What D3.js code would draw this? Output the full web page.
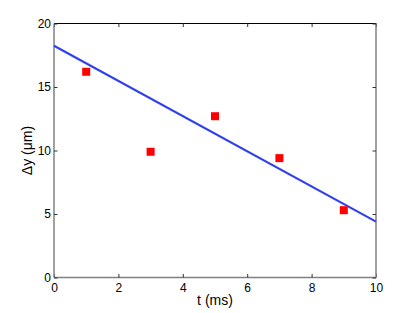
<!DOCTYPE html>
<html>
<head>
<meta charset="utf-8">
<script src="https://cdn.jsdelivr.net/npm/d3@7"></script>
<style>
  body { margin: 0; background: #fff; }
  text { font-family: "Liberation Sans", Arial, sans-serif; }
</style>
</head>
<body>
<div id="container"></div>
<script>
const tValues = [1, 3, 5, 7, 9]
const dyValues = [16.2, 9.9, 12.7, 9.4, 5.3]
const lineT = [0, 10]
const lineDy = [18.25, 4.4]
const xTicks = [0, 2, 4, 6, 8, 10]
const yTicks = [0, 5, 10, 15, 20]

const width = 415
const height = 313
const marginTop = 23.5
const marginRight = 39
const marginBottom = 35.5
const marginLeft = 54

const x = d3.scaleLinear()
    .domain([0, 10])
    .range([marginLeft, width - marginRight])

const y = d3.scaleLinear()
    .domain([0, 20])
    .range([height - marginBottom, marginTop])

const svg = d3.create("svg")
    .attr("width", width)
    .attr("height", height)

const axisColor = "#808080"
const tickLen = 3.5

// axes, ticks pointing inward like matlab
const xAxis = svg.append("g")
    .attr("transform", `translate(0,${height - marginBottom})`)
    .call(d3.axisBottom(x).tickValues(xTicks).tickSize(-tickLen).tickPadding(5.5).tickFormat(d3.format("d")))
const xAxisTop = svg.append("g")
    .attr("transform", `translate(0,${marginTop})`)
    .call(d3.axisTop(x).tickValues(xTicks).tickSize(-tickLen).tickFormat(""))
const yAxis = svg.append("g")
    .attr("transform", `translate(${marginLeft},0)`)
    .call(d3.axisLeft(y).tickValues(yTicks).tickSize(-tickLen).tickPadding(3).tickFormat(d3.format("d")))
const yAxisRight = svg.append("g")
    .attr("transform", `translate(${width - marginRight},0)`)
    .call(d3.axisRight(y).tickValues(yTicks).tickSize(-tickLen).tickFormat(""))

for (const g of [xAxis, xAxisTop, yAxis, yAxisRight]) {
    g.select(".domain").attr("stroke", axisColor).attr("stroke-width", 1.5)
    g.selectAll(".tick line").attr("stroke", "#333")
    g.selectAll(".tick text")
        .attr("fill", "#000")
        .style("font-size", "12px")
        .style("font-family", "Liberation Sans, Arial, sans-serif")
}
xAxisTop.select(".domain").attr("stroke", "#000").attr("stroke-width", 1)
// matlab axis lines have no end caps
for (const g of [xAxis, xAxisTop]) {
    g.select(".domain").attr("d", `M${x(0)},0H${x(10)}`)
}
for (const g of [yAxis, yAxisRight]) {
    g.select(".domain").attr("d", `M0,${y(0)}V${y(20)}`)
}

// trend line
const lineData = lineT.map((t, i) => [t, lineDy[i]])
svg.append("path")
    .datum(lineData)
    .attr("fill", "none")
    .attr("stroke", "#3040f0")
    .attr("stroke-width", 2.2)
    .attr("d", d3.line().x(d => x(d[0])).y(d => y(d[1])))

// data squares
const s = 8
svg.selectAll(".pt")
    .data(tValues.map((t, i) => [t, dyValues[i]]))
    .enter().append("rect")
    .attr("class", "pt")
    .attr("x", d => x(d[0]) - s / 2)
    .attr("y", d => y(d[1]) - s / 2)
    .attr("width", s)
    .attr("height", s)
    .attr("fill", "#ff0000")

svg.append("text")
    .attr("text-anchor", "middle")
    .attr("x", (marginLeft + width - marginRight) / 2)
    .attr("y", 305)
    .style("font-size", "14px")
    .text("t (ms)")

svg.append("text")
    .attr("text-anchor", "middle")
    .attr("transform", "rotate(-90)")
    .attr("x", -(marginTop + height - marginBottom) / 2)
    .attr("y", 32)
    .style("font-size", "14px")
    .text("Δy (μm)")

document.querySelector("#container").appendChild(svg.node())
</script>
</body>
</html>
